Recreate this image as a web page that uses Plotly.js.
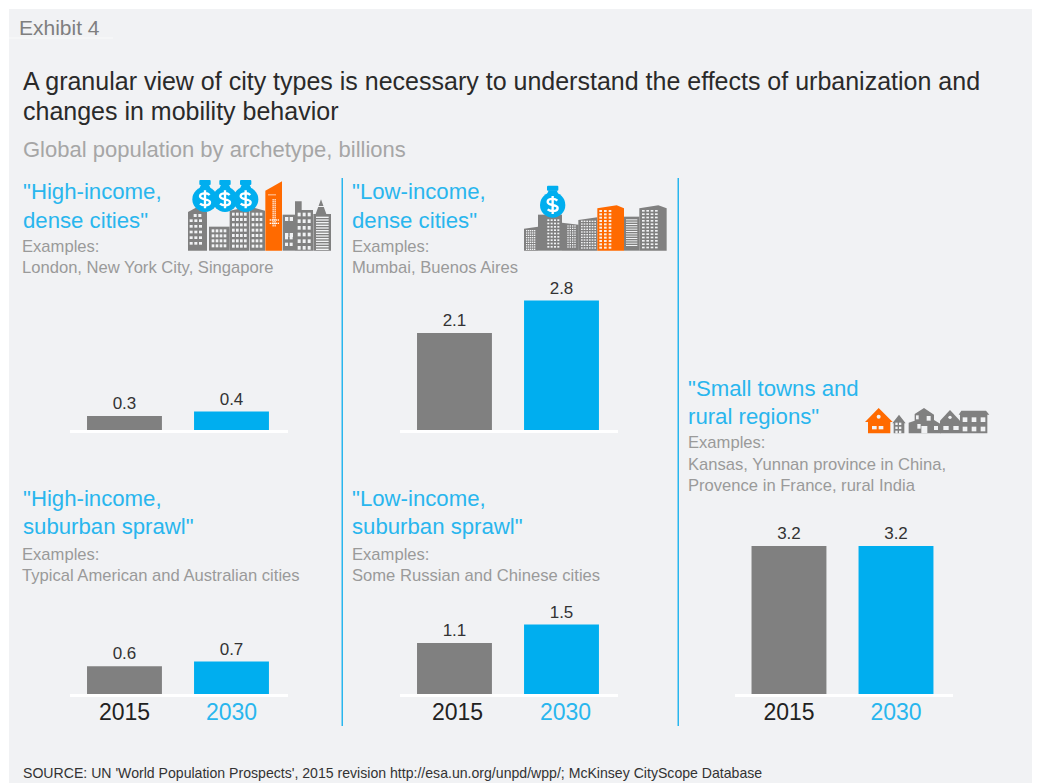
<!DOCTYPE html>
<html>
<head>
<meta charset="utf-8">
<script src="https://cdn.plot.ly/plotly-3.0.1.min.js"></script>
<style>html,body{margin:0;padding:0;background:#fff}#chart{width:1038px;height:783px}</style>
</head>
<body>
<div id="chart"></div>
<script>
// ---------- data ----------
const years = ['2015', '2030'];
const highDense = [0.3, 0.4];
const lowDense = [2.1, 2.8];
const highSprawl = [0.6, 0.7];
const lowSprawl = [1.1, 1.5];
const smallTowns = [3.2, 3.2];

// ---------- style ----------
const W = 1038, H = 783;
const GRAY = '#808080', BLUE = '#00AEEF', TXTBLUE = '#29B6EE', ORANGE = '#FF6A00';
const FONT = '"Liberation Sans", Arial, sans-serif';
const PX_PER_UNIT = 46.25;

const px = x => x / W;
const py = y => 1 - y / H;

// panels: values, left edge px, plot top px, baseline px, show ticks
const panels = [
  {v: highDense,  left: 70,  top: 280, base: 430, ticks: false},
  {v: lowDense,   left: 400, top: 280, base: 430, ticks: false},
  {v: highSprawl, left: 70,  top: 600, base: 694, ticks: true},
  {v: lowSprawl,  left: 400, top: 600, base: 694, ticks: false, shifted: true},
  {v: smallTowns, left: 734.5, top: 500, base: 694, ticks: true}
];

const traces = [];
const layout = {
  width: W, height: H,
  margin: {l: 0, r: 0, t: 0, b: 0},
  paper_bgcolor: '#ffffff',
  plot_bgcolor: 'rgba(0,0,0,0)',
  showlegend: false,
  font: {family: FONT},
  shapes: [],
  annotations: [],
  images: []
};

panels.forEach((p, i) => {
  const n = i === 0 ? '' : String(i + 1);
  traces.push({
    type: 'bar',
    x: years,
    y: p.v,
    xaxis: 'x' + n,
    yaxis: 'y' + n,
    width: 0.7,
    marker: {color: [GRAY, BLUE], line: {width: 0}},
    text: p.v.map(v => v.toFixed(1)),
    textposition: 'outside',
    cliponaxis: false,
    textfont: {family: FONT, size: 17, color: '#333333'},
    hoverinfo: 'x+y'
  });
  layout['xaxis' + n] = {
    domain: [px(p.left), px(p.left + 218)],
    anchor: 'y' + n,
    type: 'category',
    categoryorder: 'array',
    categoryarray: years,
    range: [-0.509, 1.528],
    showgrid: false, zeroline: false,
    showline: true, linecolor: '#ffffff', linewidth: 3,
    ticks: '',
    showticklabels: p.ticks,
    ticklabelstandoff: -5,
    tickmode: 'array',
    tickvals: years,
    ticktext: ['<span style="color:#222222">2015</span>', '<span style="color:' + TXTBLUE + '">2030</span>'],
    tickfont: {family: FONT, size: 23, color: '#222222'},
    fixedrange: true
  };
  layout['yaxis' + n] = {
    domain: [py(p.base), py(p.top)],
    anchor: 'x' + n,
    range: [0, (p.base - p.top) / PX_PER_UNIT],
    visible: false,
    fixedrange: true
  };
  if (p.shifted) {
    // the reference sets this panel's year labels a little right of the bar centres
    years.forEach((yr, k) => layout.annotations.push({
      text: yr, xref: 'x' + n, yref: 'paper', x: k, y: py(712), xshift: k === 0 ? 3 : 4.5,
      xanchor: 'center', yanchor: 'middle', showarrow: false, borderpad: 0, borderwidth: 0,
      font: {family: FONT, size: 23, color: k === 0 ? '#222222' : TXTBLUE}
    }));
  }
});

// ---------- background, dividers ----------
function rect(x0, y0, x1, y1, color) {
  return {type: 'rect', xref: 'paper', yref: 'paper', layer: 'below',
    x0: px(x0), x1: px(x1), y0: py(y0), y1: py(y1),
    fillcolor: color, line: {width: 0}};
}
layout.shapes.push(rect(9, 9, 1032, 783, '#F1F2F4'));
layout.shapes.push(rect(9, 37.5, 113, 38.5, '#F9F9FA'));
layout.shapes.push(rect(341.5, 178, 343, 726, TXTBLUE));
layout.shapes.push(rect(677.5, 178, 679, 726, TXTBLUE));

// ---------- text ----------
const H2 = 22.2, EX = 16.6, EXC = '#9A9A9A';
const textRows = [
  ['Exhibit 4', 19, 27.5, 21, '#7F7F7F'],
  ['A granular view of city types is necessary to understand the effects of urbanization and', 23, 81, 25, '#2A2A2A'],
  ['changes in mobility behavior', 23, 111, 25, '#2A2A2A'],
  ['Global population by archetype, billions', 23, 149, 22, '#A6A6A6'],
  ['"High-income,', 23, 192, H2, TXTBLUE],
  ['dense cities"', 23, 220, H2, TXTBLUE],
  ['Examples:', 22, 247, EX, EXC],
  ['London, New York City, Singapore', 22, 268, EX, EXC],
  ['"Low-income,', 352, 192, H2, TXTBLUE],
  ['dense cities"', 352, 220, H2, TXTBLUE],
  ['Examples:', 351.5, 247, EX, EXC],
  ['Mumbai, Buenos Aires', 351.5, 268, EX, EXC],
  ['"High-income,', 23, 498, H2, TXTBLUE],
  ['suburban sprawl"', 23, 526, H2, TXTBLUE],
  ['Examples:', 22, 554, EX, EXC],
  ['Typical American and Australian cities', 22, 575, EX, EXC],
  ['"Low-income,', 352, 498, H2, TXTBLUE],
  ['suburban sprawl"', 352, 526, H2, TXTBLUE],
  ['Examples:', 351.5, 554, EX, EXC],
  ['Some Russian and Chinese cities', 351.5, 575, EX, EXC],
  ['"Small towns and', 688, 388, H2, TXTBLUE],
  ['rural regions"', 688, 416, H2, TXTBLUE],
  ['Examples:', 687.5, 443, EX, EXC],
  ['Kansas, Yunnan province in China,', 687.5, 464, EX, EXC],
  ['Provence in France, rural India', 687.5, 485, EX, EXC],
  ["SOURCE: UN 'World Population Prospects', 2015 revision http://esa.un.org/unpd/wpp/; McKinsey CityScope Database", 22.5, 773, 14.1, '#333333']
];
textRows.forEach(([t, x, y, s, c]) => {
  layout.annotations.push({
    text: t, xref: 'paper', yref: 'paper', x: px(x), y: py(y),
    xanchor: 'left', yanchor: 'middle', showarrow: false, borderpad: 0, borderwidth: 0,
    font: {family: FONT, size: s, color: c}
  });
});

// ---------- icons (decorative pictograms) ----------
function win(x0, y0, cols, rows, dx, dy, w, h, color) {
  let s = '';
  for (let r = 0; r < rows; r++) for (let c = 0; c < cols; c++)
    s += `<rect x="${x0 + c * dx}" y="${y0 + r * dy}" width="${w}" height="${h}" fill="${color || '#F1F2F4'}"/>`;
  return s;
}
function bag(cx, cy) {
  return `<rect x="${cx - 17}" y="${cy - 58}" width="34" height="15" rx="3" fill="${BLUE}"/>` +
    `<path d="M${cx - 12} ${cy - 44} H${cx + 12} L${cx + 18} ${cy - 30} H${cx - 18} Z" fill="${BLUE}"/>` +
    `<circle cx="${cx}" cy="${cy}" r="38" fill="${BLUE}"/>` +
    `<path d="M${cx + 14} ${cy - 13} C${cx + 6} ${cy - 21} ${cx - 15} ${cy - 20} ${cx - 15} ${cy - 9} C${cx - 15} ${cy + 3} ${cx + 15} ${cy - 3} ${cx + 15} ${cy + 9} C${cx + 15} ${cy + 20} ${cx - 6} ${cy + 21} ${cx - 15} ${cy + 13} M${cx} ${cy - 27} L${cx} ${cy + 27}" fill="none" stroke="#fff" stroke-width="7"/>`;
}
const g = GRAY;
const icon1 = `<svg xmlns="http://www.w3.org/2000/svg" viewBox="0 0 450 240" width="450" height="240">
<path fill="${g}" d="M9 108L38 92L66 108V224H9Z"/>${win(26, 114, 2, 1, 14, 0, 9, 9)}${win(14, 130, 3, 5, 14, 17, 9, 8)}
<rect x="72" y="152" width="62" height="72" fill="${g}"/>${win(80, 160, 4, 4, 12, 15, 8, 9)}
<path fill="${g}" d="M134 104L192 92L192 224H134Z"/>${win(141, 110, 4, 7, 12, 16, 8, 9)}
<path fill="${g}" d="M194 92L240 104V224H194Z"/>${win(200, 110, 3, 7, 12, 16, 8, 9)}
<path fill="${ORANGE}" d="M241 44L291 16V224H241Z"/>${win(250, 55, 4, 1, 6, 0, 4, 3, '#fff')}${win(262, 70, 2, 14, 6, 6, 5, 3, '#fff')}${win(254, 130, 5, 2, 6, 10, 4, 4, '#fff')}
<rect x="293" y="116" width="37" height="108" fill="${g}"/>${win(300, 123, 2, 2, 14, 48, 10, 12)}${win(300, 180, 2, 2, 14, 20, 9, 10)}
<path fill="${g}" d="M330 76H350V102H384V224H330Z"/>${win(338, 110, 3, 6, 15, 20, 9, 11)}
<path fill="${g}" d="M385 224V114H392L408 70L424 114H438V224Z"/>${win(393, 122, 1, 13, 0, 8, 38, 4)}${win(398, 90, 1, 1, 0, 0, 20, 3)}
${bag(60, 70)}${bag(120, 70)}${bag(182, 70)}</svg>`;

const icon2 = `<svg xmlns="http://www.w3.org/2000/svg" viewBox="0 0 450 228" width="450" height="228">
<path fill="${g}" d="M12 146L54 140V212H12Z"/>${win(18, 150, 5, 9, 6, 7, 4, 4)}
<path fill="${g}" d="M54 104H126V212H54Z"/>${win(82, 118, 4, 9, 10, 10, 6, 5)}
<path fill="${g}" d="M126 128L176 134V212H126Z"/>${win(142, 136, 4, 10, 7, 7, 4, 4)}
<path fill="${g}" d="M175 120L232 112V212H175Z"/>${win(183, 122, 6, 11, 8, 8, 5, 4)}
<path fill="${ORANGE}" d="M232 85L290 76L312 85V212H232Z"/>${win(238, 90, 3, 12, 14, 10, 8, 6, '#F8EDE5')}
<path fill="${g}" d="M312 110H358V212H312Z"/>${win(318, 118, 1, 12, 0, 7, 34, 3)}
<path fill="${g}" d="M358 85L415 76L440 85V212H358Z"/>${win(366, 90, 4, 12, 13, 10, 8, 5)}
${bag(98, 75)}</svg>`;

const icon3 = `<svg xmlns="http://www.w3.org/2000/svg" viewBox="0 0 405 120" width="405" height="120">
<path fill="${ORANGE}" d="M15 66L56 24L98 66H91V100H24V66Z"/><circle cx="56" cy="50" r="6" fill="#F1F2F4"/>${win(36, 78, 2, 1, 20, 0, 14, 10)}
<path fill="${g}" d="M97 70L117 44L137 70H133V100H101V70Z"/>${win(106, 68, 2, 2, 11, 12, 7, 7)}${win(106, 92, 2, 1, 11, 0, 7, 8)}
<path fill="${g}" d="M146 100V68L164 62V42L192 24L222 44V60L242 72V100Z"/>${win(200, 48, 1, 1, 0, 0, 12, 14)}${win(168, 46, 1, 1, 0, 0, 8, 12)}${win(172, 72, 1, 1, 0, 0, 10, 14)}${win(184, 78, 1, 1, 0, 0, 18, 22)}${win(222, 78, 1, 1, 0, 0, 12, 12)}
<path fill="${g}" d="M240 62L270 30L300 62V100H240Z"/><circle cx="270" cy="52" r="5" fill="#F1F2F4"/>${win(250, 78, 2, 1, 30, 0, 16, 12)}
<path fill="${g}" d="M296 44L304 32H378L388 44H382V100H300V44Z"/>${win(308, 52, 3, 2, 27, 28, 14, 14)}
</svg>`;

function addIcon(svg, x, y, w, h) {
  layout.images.push({
    source: 'data:image/svg+xml;charset=utf-8,' + encodeURIComponent(svg),
    xref: 'paper', yref: 'paper', x: px(x), y: py(y), sizex: w / W, sizey: h / H,
    xanchor: 'left', yanchor: 'top', sizing: 'stretch', layer: 'above'
  });
}
addIcon(icon1, 185, 176, 150, 80);
addIcon(icon2, 520, 180, 150, 76);
addIcon(icon3, 860, 400, 135, 40);

Plotly.newPlot('chart', traces, layout, {displayModeBar: false, responsive: false, staticPlot: false});
</script>
</body>
</html>
